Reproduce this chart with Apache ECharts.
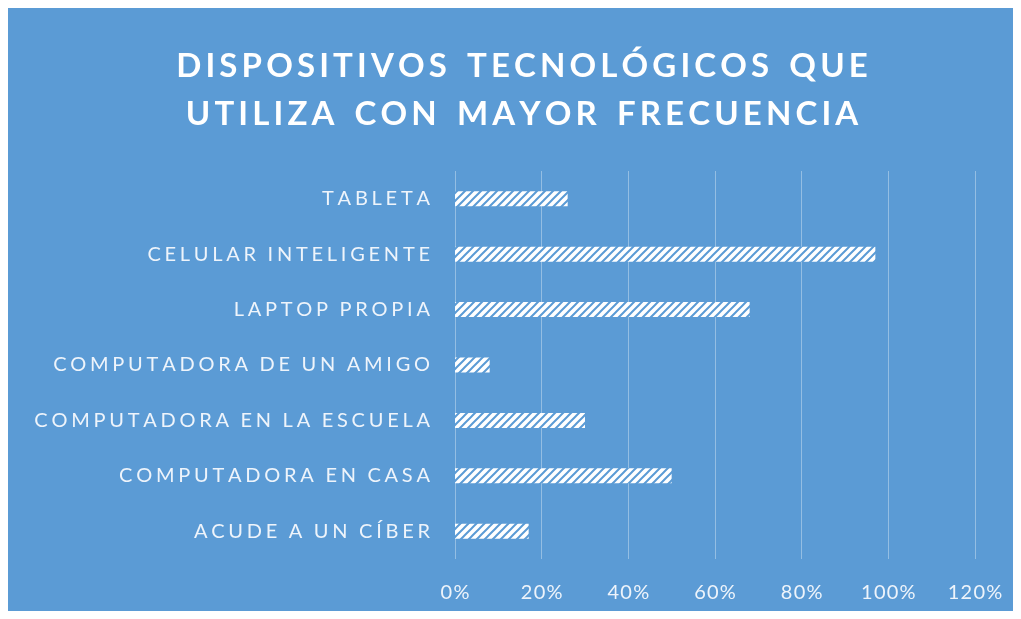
<!DOCTYPE html>
<html>
<head>
<meta charset="utf-8">
<script src="https://cdn.jsdelivr.net/npm/echarts@6/dist/echarts.min.js"></script>
<style>
  html, body { margin: 0; padding: 0; background: #ffffff; }
  #frame { position: absolute; left: 8px; top: 8px; width: 1005px; height: 603px; background: #5b9bd5; }
  #chart { position: absolute; left: 0; top: 0; width: 1021px; height: 619px; }
</style>
</head>
<body>
<div id="frame"></div>
<div id="chart"></div>
<script>
// categories, top to bottom as shown
const categories = [
  'TABLETA',
  'CELULAR INTELIGENTE',
  'LAPTOP PROPIA',
  'COMPUTADORA DE UN AMIGO',
  'COMPUTADORA EN LA ESCUELA',
  'COMPUTADORA EN CASA',
  'ACUDE A UN CÍBER'
]
const values = [0.26, 0.97, 0.68, 0.08, 0.30, 0.50, 0.17]
const xTicks = [0, 0.2, 0.4, 0.6, 0.8, 1.0, 1.2]

// spread letters out a bit (the original uses letter spacing)
function spaced(s, gap, wordGap) {
  return s.split(' ').map(w => w.split('').join(gap)).join(wordGap)
}

// hatch pattern for the bars
function hatch() {
  var c = document.createElement('canvas')
  c.width = 8; c.height = 8
  var ctx = c.getContext('2d')
  ctx.fillStyle = '#ffffff'
  ctx.fillRect(0, 0, 8, 8)
  ctx.strokeStyle = '#5b9bd5'
  ctx.lineWidth = 2
  ctx.beginPath()
  ctx.moveTo(-2, 10); ctx.lineTo(10, -2)
  ctx.moveTo(-6, 6); ctx.lineTo(6, -6)
  ctx.moveTo(2, 14); ctx.lineTo(14, 2)
  ctx.stroke()
  return c
}

var chart = echarts.init(document.getElementById('chart'))
chart.setOption({
  backgroundColor: 'transparent',
  title: {
    text: spaced('DISPOSITIVOS TECNOLÓGICOS QUE', '\u2009', '  \u2009') + '\n' +
          spaced('UTILIZA CON MAYOR FRECUENCIA', '\u2009', '  \u2009'),
    left: 517,
    textAlign: 'center',
    top: 37,
    textStyle: {
      color: '#ffffff',
      fontFamily: 'Lato',
      fontWeight: 'bold',
      fontSize: 33,
      lineHeight: 48
    }
  },
  grid: { left: 455, right: 46, top: 171, height: 388, containLabel: false },
  xAxis: {
    type: 'value',
    min: 0,
    max: 1.2,
    interval: 0.2,
    axisLine: { show: false },
    axisTick: { show: false },
    splitLine: { lineStyle: { color: 'rgba(255,255,255,0.35)', width: 1 } },
    axisLabel: {
      color: '#eef4fb',
      fontFamily: 'Lato',
      fontSize: 20,
      margin: 24,
      formatter: v => {
        var i = xTicks.findIndex(t => Math.abs(t - v) < 1e-9)
        return i < 0 ? '' : spaced(Math.round(xTicks[i] * 100) + '%', '\u200A', ' ')
      }
    }
  },
  yAxis: {
    type: 'category',
    data: categories,
    inverse: true,
    axisLine: { show: false },
    axisTick: { show: false },
    axisLabel: {
      color: '#eef4fb',
      fontFamily: 'Lato',
      fontSize: 20,
      margin: 25,
      formatter: v => spaced(v, '\u2009\u200A', '  \u200A')
    }
  },
  series: [{
    type: 'bar',
    data: values,
    barWidth: 15,
    itemStyle: { color: { image: hatch(), repeat: 'repeat' } },
    silent: true
  }]
})
</script>
</body>
</html>
